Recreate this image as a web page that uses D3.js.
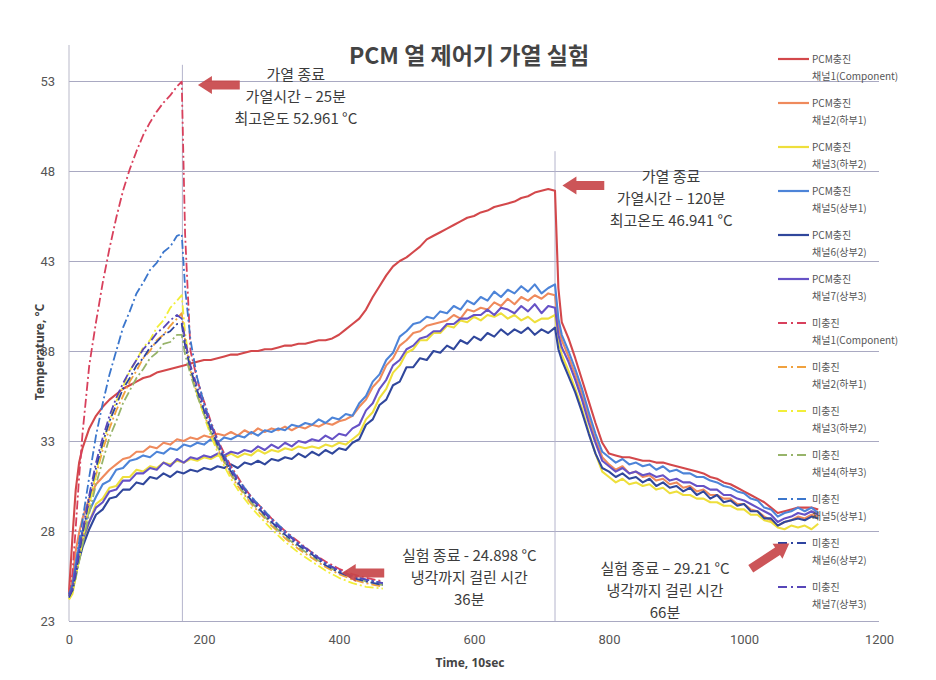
<!DOCTYPE html>
<html><head><meta charset="utf-8">
<script src="https://cdn.jsdelivr.net/npm/d3@7/dist/d3.min.js"></script>
<style>body{margin:0;background:#fff;}</style>
</head><body>
<svg id="chart" width="936" height="680"></svg>
<script>
// ---------- DATA ----------
const pcmTime = [0,5,10,15,20,30,40,50,60,70,
 80,90,100,110,120,130,140,150,160,170,
 180,190,200,210,220,230,240,250,260,270,
 280,290,300,310,320,330,340,350,360,370,
 380,390,400,410,420,430,440,450,460,470,
 480,490,500,510,520,530,540,550,560,570,
 580,590,600,610,620,630,640,650,660,670,
 680,690,700,710,720,725,730,740,750,760,
 770,780,790,800,810,820,830,840,850,860,
 870,880,890,900,910,920,930,940,950,960,
 970,980,990,1000,1010,1020,1030,1040,1050,1060,
 1070,1080,1090,1100,1110];

const pcmCh1 = [24.6,27.6,30.3,31.8,32.6,33.7,34.4,34.9,35.3,35.6,
 35.9,36.1,36.3,36.5,36.6,36.8,36.9,37.0,37.1,37.2,
 37.3,37.4,37.5,37.5,37.6,37.7,37.8,37.8,37.9,38.0,
 38.0,38.1,38.1,38.2,38.3,38.3,38.4,38.4,38.5,38.6,
 38.6,38.7,38.9,39.2,39.5,39.8,40.3,41.0,41.6,42.2,
 42.7,43.0,43.2,43.5,43.8,44.2,44.4,44.6,44.8,45.0,
 45.2,45.4,45.5,45.7,45.8,46.0,46.1,46.2,46.3,46.5,
 46.6,46.8,46.9,47.0,46.9,41.5,39.6,38.7,37.6,36.4,
 35.2,34.0,32.9,32.3,32.2,32.1,32.1,32.0,31.9,31.9,
 31.8,31.8,31.7,31.6,31.5,31.4,31.3,31.2,31.0,30.9,
 30.7,30.6,30.4,30.2,30.0,29.8,29.6,29.3,29.0,29.1,
 29.2,29.3,29.3,29.3,29.2];

const pcmCh2 = [24.6,25.3,26.9,27.9,28.7,29.8,30.6,31.0,31.4,31.7,
 32.0,32.1,32.4,32.4,32.7,32.6,32.9,32.8,33.1,33.0,
 33.2,33.1,33.3,33.2,33.4,33.3,33.5,33.3,33.6,33.4,
 33.7,33.5,33.7,33.6,33.8,33.6,33.8,33.7,33.9,33.8,
 34.0,33.9,34.1,34.2,34.4,34.9,35.3,36.0,36.4,37.2,
 37.6,38.3,38.6,39.0,39.1,39.4,39.5,39.6,39.7,40.0,
 39.8,40.3,40.2,40.4,40.3,40.7,40.5,40.9,40.6,41.0,
 40.8,41.1,40.9,41.2,41.1,39.4,38.6,37.7,36.7,35.6,
 34.3,33.1,32.1,31.7,31.4,31.6,31.2,31.3,31.0,31.1,
 30.8,30.9,30.6,30.7,30.4,30.5,30.2,30.3,30.0,30.0,
 29.8,29.8,29.5,29.5,29.2,29.1,28.8,28.6,28.3,28.5,
 28.6,28.8,28.7,28.9,28.8];

const pcmCh3 = [24.2,24.5,25.5,26.5,27.3,28.5,29.5,29.8,30.4,30.5,
 31.0,31.0,31.4,31.3,31.6,31.5,31.8,31.7,31.9,31.8,
 32.0,31.9,32.1,32.0,32.2,32.1,32.3,32.1,32.3,32.2,
 32.5,32.3,32.5,32.4,32.6,32.5,32.7,32.6,32.7,32.6,
 32.8,32.7,32.9,32.8,33.1,33.4,34.2,34.6,35.4,35.9,
 36.8,37.2,37.9,38.1,38.6,38.6,39.0,39.0,39.4,39.3,
 39.7,39.6,39.9,39.7,40.0,39.9,40.1,39.8,40.0,39.7,
 39.9,39.6,39.8,39.8,40.0,38.6,37.8,36.9,35.9,34.8,
 33.5,32.3,31.3,31.0,30.7,30.9,30.6,30.7,30.5,30.6,
 30.3,30.4,30.1,30.2,30.0,30.0,29.8,29.8,29.6,29.6,
 29.4,29.4,29.2,29.2,28.9,28.9,28.6,28.5,28.2,28.1,
 28.3,28.2,28.3,28.1,28.4];

const pcmCh5 = [24.5,25.0,26.2,27.2,28.0,29.1,29.9,30.6,30.8,31.4,
 31.5,31.9,32.0,32.2,32.1,32.4,32.3,32.6,32.5,32.8,
 32.7,32.9,32.8,33.1,32.9,33.2,33.1,33.3,33.2,33.5,
 33.3,33.6,33.5,33.7,33.6,33.9,33.8,34.0,33.9,34.2,
 34.0,34.3,34.2,34.5,34.4,35.1,35.5,36.3,36.7,37.5,
 37.9,38.8,39.1,39.5,39.6,39.9,39.8,40.2,40.1,40.5,
 40.3,40.8,40.6,41.0,40.8,41.3,41.0,41.4,41.2,41.6,
 41.3,41.7,41.2,41.5,41.7,39.8,38.9,38.0,37.0,35.9,
 34.6,33.4,32.4,32.1,31.8,32.0,31.7,31.8,31.6,31.7,
 31.4,31.6,31.3,31.4,31.2,31.2,31.0,31.0,30.8,30.7,
 30.5,30.4,30.2,30.1,29.8,29.7,29.3,29.2,28.8,29.0,
 29.1,29.3,29.1,29.3,29.0];

const pcmCh6 = [24.4,24.7,25.6,26.4,27.1,28.1,28.9,29.2,29.8,29.9,
 30.3,30.3,30.7,30.6,31.0,30.9,31.2,31.0,31.3,31.2,
 31.4,31.3,31.5,31.4,31.6,31.5,31.7,31.5,31.8,31.7,
 31.9,31.7,32.0,31.9,32.1,32.0,32.3,32.1,32.4,32.2,
 32.5,32.3,32.6,32.5,32.9,33.1,33.9,34.2,35.0,35.3,
 36.1,36.3,37.1,37.1,37.6,37.5,38.0,37.9,38.3,38.1,
 38.6,38.4,38.8,38.6,39.0,38.8,39.2,38.9,39.2,39.0,
 39.3,38.9,39.2,39.0,39.3,38.1,37.5,36.6,35.7,34.6,
 33.4,32.3,31.5,31.3,31.0,31.2,30.9,31.0,30.7,30.9,
 30.5,30.7,30.4,30.5,30.2,30.4,30.0,30.2,29.8,30.0,
 29.6,29.7,29.4,29.5,29.1,29.1,28.7,28.7,28.3,28.5,
 28.6,28.7,28.6,28.8,28.7];

const pcmCh7 = [24.4,24.8,25.9,26.8,27.5,28.5,29.3,29.6,30.2,30.3,
 30.8,30.8,31.2,31.2,31.5,31.4,31.8,31.6,32.0,31.8,
 32.1,32.0,32.2,32.1,32.3,32.2,32.4,32.3,32.5,32.4,
 32.7,32.5,32.8,32.6,32.9,32.7,33.0,32.9,33.1,33.0,
 33.3,33.1,33.4,33.3,33.7,33.9,34.7,35.1,35.9,36.4,
 37.2,37.5,38.1,38.3,38.7,38.8,39.1,39.1,39.5,39.5,
 39.8,39.8,40.0,40.0,40.3,40.0,40.4,40.3,40.1,40.5,
 40.2,40.6,40.1,40.5,40.4,38.9,38.2,37.4,36.4,35.3,
 34.0,32.9,31.9,31.6,31.3,31.5,31.2,31.3,31.1,31.2,
 31.0,31.1,30.8,30.9,30.7,30.7,30.5,30.5,30.3,30.3,
 30.0,30.0,29.8,29.7,29.5,29.3,29.1,28.9,28.5,28.7,
 28.8,29.0,28.9,29.1,28.9];

const miTime = [0,5,10,15,20,30,40,50,60,70,
 80,90,100,110,120,130,140,150,160,167,
 172,180,190,200,210,220,230,240,250,260,
 270,280,300,320,340,360,380,400,420,440,465];

const miCh1 = [24.5,25.6,28.2,31.0,33.4,37.2,39.6,41.8,43.7,45.4,
 46.9,48.1,49.1,50.0,50.7,51.3,51.8,52.2,52.7,52.96,
 44.5,38.0,36.4,35.2,34.1,33.1,32.3,31.6,31.0,30.4,
 29.9,29.5,28.7,28.0,27.4,26.8,26.3,25.9,25.6,25.4,25.2];
const miCh2 = [24.4,24.8,25.6,26.6,27.6,29.5,31.1,32.5,33.7,34.7,
 35.5,36.3,36.9,37.6,38.0,38.6,38.9,39.4,39.8,40.1,
 38.6,36.9,35.6,34.5,33.5,32.6,31.8,31.1,30.5,30.0,
 29.5,29.1,28.3,27.6,27.0,26.5,26.0,25.6,25.3,25.1,24.9];
const miCh3 = [24.2,24.6,25.4,26.4,27.4,29.4,31.2,32.8,34.1,35.2,
 36.0,36.9,37.5,38.2,38.6,39.3,39.7,40.4,40.8,41.1,
 39.0,37.0,35.6,34.4,33.3,32.4,31.6,30.9,30.3,29.8,
 29.3,28.9,28.1,27.4,26.8,26.3,25.8,25.4,25.1,24.9,24.8];
const miCh4 = [24.4,24.7,25.4,26.3,27.2,29.0,30.6,31.9,33.2,34.1,
 35.1,35.8,36.5,37.0,37.6,37.9,38.4,38.5,38.9,38.9,
 37.8,36.7,35.5,34.5,33.5,32.7,31.9,31.2,30.6,30.1,
 29.6,29.2,28.4,27.7,27.1,26.6,26.1,25.7,25.4,25.2,25.0];
const miCh5 = [24.5,25.0,26.1,27.4,28.6,31.0,33.3,35.1,36.7,38.0,
 39.3,40.2,41.2,41.8,42.5,42.9,43.5,43.8,44.4,44.5,
 41.5,38.6,36.5,35.1,34.0,33.0,32.2,31.5,30.9,30.4,
 29.9,29.5,28.7,28.0,27.3,26.8,26.2,25.8,25.5,25.3,25.1];
const miCh6 = [24.3,24.7,25.6,26.7,27.8,29.8,31.5,32.9,34.1,35.0,
 35.9,36.5,37.2,37.6,38.2,38.5,38.9,39.1,39.5,39.5,
 38.3,37.0,35.8,34.7,33.7,32.8,32.0,31.3,30.7,30.2,
 29.7,29.3,28.5,27.8,27.2,26.7,26.1,25.7,25.4,25.2,25.0];
const miCh7 = [24.4,24.8,25.8,26.9,28.0,30.0,31.8,33.2,34.4,35.4,
 36.2,36.9,37.5,38.1,38.5,39.0,39.3,39.7,40.0,39.8,
 38.6,37.2,36.0,34.9,33.9,33.0,32.1,31.4,30.8,30.3,
 29.8,29.4,28.6,27.9,27.3,26.8,26.2,25.8,25.5,25.3,25.1];

const yTicks = [23,28,33,38,43,48,53];
const xTicks = [0,200,400,600,800,1000,1200];
const groupNames = ["PCM충진","미충진"];
const channelNames = ["채널1(Component)","채널2(하부1)","채널3(하부2)","채널5(상부1)","채널6(상부2)","채널7(상부3)",
  "채널1(Component)","채널2(하부1)","채널3(하부2)","채널4(하부3)","채널5(상부1)","채널6(상부2)","채널7(상부3)"];
const heatEnd = [{t:168, top:53.9},{t:720, top:49.1}];

// ---------- CHART ----------
const svg = d3.select("#chart");
const W = 936, H = 680;
const x = d3.scaleLinear().domain([0,1200]).range([69,879]);
const y = d3.scaleLinear().domain([23,53]).range([621,81]);
const kfont = "'Noto Sans CJK KR','Noto Sans',sans-serif";

svg.append("rect").attr("width",W).attr("height",H).attr("fill","#fff");

const gy = svg.append("g").attr("transform","translate(69,0)")
  .call(d3.axisLeft(y).tickValues(yTicks).tickSize(-(879-69)).tickPadding(14).tickFormat(d3.format("d")));
gy.select(".domain").remove();
gy.selectAll(".tick line").attr("stroke","#a9a9c2").attr("stroke-width",1);
gy.selectAll(".tick text").attr("fill","#555").attr("font-size",13).attr("font-family","Roboto,'Noto Sans',sans-serif");

svg.append("line").attr("x1",x(0)).attr("x2",x(0)).attr("y1",45).attr("y2",y(23))
  .attr("stroke","#b9b9c9").attr("stroke-width",1);

const gx = svg.append("g").attr("transform",`translate(0,${y(23)})`)
  .call(d3.axisBottom(x).tickValues(xTicks).tickSize(0).tickPadding(14).tickFormat(d3.format("d")));
gx.select(".domain").remove();
gx.selectAll(".tick text").attr("fill","#555").attr("font-size",13).attr("font-family","Roboto,'Noto Sans',sans-serif");

svg.selectAll(".ref").data(heatEnd).join("line")
  .attr("x1",d=>x(d.t)).attr("x2",d=>x(d.t)).attr("y1",d=>y(d.top)).attr("y2",y(23))
  .attr("stroke","#b4b4cc").attr("stroke-width",1);

const series = [
  {g:0, ch:0, t:pcmTime, v:pcmCh1, color:"#d3484b", dash:false},
  {g:0, ch:1, t:pcmTime, v:pcmCh2, color:"#ef8a5c", dash:false},
  {g:0, ch:2, t:pcmTime, v:pcmCh3, color:"#eedf3c", dash:false},
  {g:0, ch:3, t:pcmTime, v:pcmCh5, color:"#4d84d8", dash:false},
  {g:0, ch:4, t:pcmTime, v:pcmCh6, color:"#30479c", dash:false},
  {g:0, ch:5, t:pcmTime, v:pcmCh7, color:"#6652c6", dash:false},
  {g:1, ch:6, t:miTime, v:miCh1, color:"#d8405c", dash:true},
  {g:1, ch:7, t:miTime, v:miCh2, color:"#f0a13e", dash:true},
  {g:1, ch:8, t:miTime, v:miCh3, color:"#f2ee3a", dash:true},
  {g:1, ch:9, t:miTime, v:miCh4, color:"#97b46a", dash:true},
  {g:1, ch:10, t:miTime, v:miCh5, color:"#3b76cc", dash:true},
  {g:1, ch:11, t:miTime, v:miCh6, color:"#2e44a0", dash:true},
  {g:1, ch:12, t:miTime, v:miCh7, color:"#5746b8", dash:true}
];
const line = d3.line().x(d=>x(d[0])).y(d=>y(d[1]));
const plot = svg.append("g");
series.forEach(s=>{
  const pts = s.t.map((t,i)=>[t, s.v[i]]);
  plot.append("path").attr("d",line(pts)).attr("fill","none")
    .attr("stroke",s.color).attr("stroke-width", s.dash?1.8:2.1)
    .attr("stroke-linejoin","round")
    .attr("stroke-dasharray", s.dash?"9,3,2,3":null);
});

svg.append("text").attr("x",469).attr("y",64).attr("text-anchor","middle")
  .attr("font-family",kfont).attr("font-weight","bold").attr("font-size",23).attr("fill","#444")
  .text("PCM 열 제어기 가열 실험");

svg.append("text").attr("x",470).attr("y",667).attr("text-anchor","middle")
  .attr("font-family","'Noto Sans','Open Sans',sans-serif").attr("font-weight","bold").attr("font-size",12).attr("fill","#444")
  .text("Time, 10sec");
svg.append("text").attr("transform","translate(44,352) rotate(-90)").attr("text-anchor","middle")
  .attr("font-family","'Noto Sans','Open Sans',sans-serif").attr("font-weight","bold").attr("font-size",12).attr("fill","#444")
  .text("Temperature, °C");

const lg = svg.append("g");
series.forEach((s,i)=>{
  const ly = 59 + i*44;
  lg.append("line").attr("x1",778).attr("x2",809).attr("y1",ly).attr("y2",ly)
    .attr("stroke",s.color).attr("stroke-width",s.dash?1.8:2.2)
    .attr("stroke-dasharray",s.dash?"9,4,2,4":null);
  lg.append("text").attr("x",812).attr("y",ly+4).attr("font-family",kfont).attr("font-size",10).attr("fill","#555")
    .text(groupNames[s.g]);
  lg.append("text").attr("x",812).attr("y",ly+21).attr("font-family",kfont).attr("font-size",10).attr("fill","#555")
    .text(channelNames[s.ch]);
});

const arrows = [
  {tip:[191,52.78], tail:[253,52.78]},
  {tip:[731,47.2], tail:[793,47.2]},
  {tip:[404,25.67], tail:[467,25.67]},
  {tip:[1067,27.3], tail:[1010,25.9]}
];
arrows.forEach(a=>{
  const x1=x(a.tail[0]), y1=y(a.tail[1]), x2=x(a.tip[0]), y2=y(a.tip[1]);
  const ang = Math.atan2(y2-y1, x2-x1);
  const len = Math.hypot(x2-x1,y2-y1);
  const hl=14, hw=9, sw=4.5;
  const p = [[0,-sw],[len-hl,-sw],[len-hl,-hw],[len,0],[len-hl,hw],[len-hl,sw],[0,sw]];
  svg.append("polygon").attr("points",p.map(q=>q.join(",")).join(" "))
    .attr("transform",`translate(${x1},${y1}) rotate(${ang*180/Math.PI})`)
    .attr("fill","#c8464a").attr("fill-opacity",0.92);
});

// text baselines given in data units
const notes = [
  {t:336, T:[53.06,51.83,50.61], lines:["가열 종료","가열시간 – 25분","최고온도 52.961 °C"]},
  {t:892, T:[47.39,46.17,44.94], lines:["가열 종료","가열시간 – 120분","최고온도 46.941 °C"]},
  {t:593, T:[26.33,25.11,23.89], lines:["실험 종료 - 24.898 °C","냉각까지 걸린 시간","36분"]},
  {t:883, T:[25.61,24.39,23.17], lines:["실험 종료 – 29.21 °C","냉각까지 걸린 시간","66분"]}
];
notes.forEach(n=>{
  n.lines.forEach((l,i)=>{
    svg.append("text").attr("x",x(n.t)).attr("y",y(n.T[i])).attr("text-anchor","middle")
      .attr("font-family",kfont).attr("font-size",15).attr("fill","#3c3c3c").text(l);
  });
});
</script>
</body></html>
